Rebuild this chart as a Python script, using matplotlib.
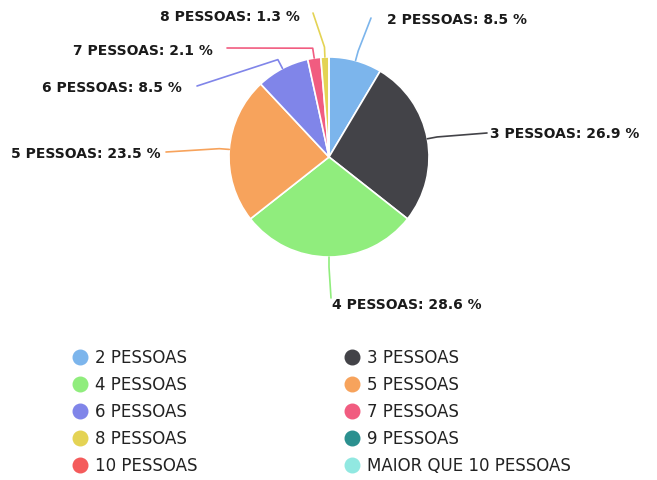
import matplotlib
matplotlib.use("Agg")
import matplotlib.pyplot as plt
import numpy as np

categories = ["2 PESSOAS", "3 PESSOAS", "4 PESSOAS", "5 PESSOAS", "6 PESSOAS",
              "7 PESSOAS", "8 PESSOAS", "9 PESSOAS", "10 PESSOAS", "MAIOR QUE 10 PESSOAS"]
values = [8.5, 26.9, 28.6, 23.5, 8.5, 2.1, 1.3, 0.0, 0.0, 0.0]
colors = ["#7cb5ec", "#434348", "#90ed7d", "#f7a35c", "#8085e9",
          "#f15c80", "#e4d354", "#2b908f", "#f45b5b", "#91e8e1"]

W, H = 657, 480
fig = plt.figure(figsize=(W / 100, H / 100), dpi=100)
fig.patch.set_facecolor("white")

# pie centre / radius in pixels
cx, cy, R = 329, 157, 100
ax = fig.add_axes([(cx - R) / W, 1 - (cy + R) / H, 2 * R / W, 2 * R / H])
wedges, _ = ax.pie(values, colors=colors, startangle=90, counterclock=False,
                   radius=1.0, wedgeprops=dict(edgecolor="white", linewidth=1.2))
ax.set_xlim(-1, 1)
ax.set_ylim(-1, 1)
ax.set_aspect("equal")
ax.axis("off")

# overlay axes in pixel coordinates for labels and legend
ov = fig.add_axes([0, 0, 1, 1], zorder=5)
ov.set_xlim(0, W)
ov.set_ylim(H, 0)
ov.axis("off")

# label layout: (connector end x, y, text x, text y, ha)
label_layout = {
    "2 PESSOAS": (371, 18, 387, 20, "left"),
    "3 PESSOAS": (487, 133, 490, 134, "left"),
    "4 PESSOAS": (331, 298, 332, 305, "left"),
    "5 PESSOAS": (166, 152, 161, 154, "right"),
    "6 PESSOAS": (197, 86, 182, 88, "right"),
    "7 PESSOAS": (227, 48, 213, 51, "right"),
    "8 PESSOAS": (313, 13, 300, 17, "right"),
}

for w, cat, val, col in zip(wedges, categories, values, colors):
    if val <= 0 or cat not in label_layout:
        continue
    mid = np.deg2rad((w.theta1 + w.theta2) / 2)
    x0, y0 = cx + R * np.cos(mid), cy - R * np.sin(mid)
    x1, y1 = cx + 1.1 * R * np.cos(mid), cy - 1.1 * R * np.sin(mid)
    ex, ey, tx, ty, ha = label_layout[cat]
    ov.plot([x0, x1, ex], [y0, y1, ey], color=col, lw=1.2, solid_capstyle="round")
    ov.text(tx, ty, f"{cat}: {val:.1f} %", ha=ha, va="center", fontsize=10,
            fontweight="bold", color="#1a1a1a", family="DejaVu Sans")

# legend (row-wise, two columns)
col_x = [80, 352]
row_y0, row_dy = 357, 27
for i, (cat, col) in enumerate(zip(categories, colors)):
    r, c = divmod(i, 2)
    x, y = col_x[c], row_y0 + r * row_dy
    ov.scatter([x], [y], s=110, color=col, zorder=6)
    ov.text(x + 15, y + 1, cat, ha="left", va="center", fontsize=12,
            color="#222222", family="DejaVu Sans")

fig.savefig("out.png", dpi=100, facecolor="white")
